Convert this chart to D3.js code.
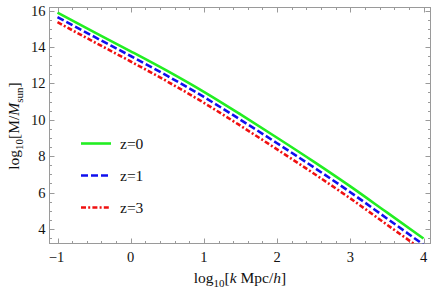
<!DOCTYPE html>
<html><head><meta charset="utf-8">
<script src="https://cdn.jsdelivr.net/npm/d3@7"></script>
<style>body{margin:0;background:#fff}svg{display:block}text{font-family:"Liberation Serif","Times New Roman",Times,serif}</style>
</head><body>
<svg id="c" width="436" height="290"></svg>
<script>
const logK = [-1, -0.5, 0, 0.5, 1, 1.5, 2, 2.5, 3, 3.5, 4];
const massZ0 = [15.88, 14.81, 13.76, 12.68, 11.53, 10.29, 9.01, 7.70, 6.34, 4.91, 3.48];
const massZ1 = [15.64, 14.56, 13.50, 12.41, 11.25, 10.00, 8.71, 7.39, 6.02, 4.58, 3.14];
const massZ3 = [15.36, 14.27, 13.20, 12.10, 10.93, 9.67, 8.37, 7.05, 5.68, 4.24, 2.81];
const seriesNames = ["z=0", "z=1", "z=3"];
const xTicks = [-1, 0, 1, 2, 3, 4];
const yTicks = [4, 6, 8, 10, 12, 14, 16];

const svg = d3.select("#c");
const x = d3.scaleLinear().domain([-1, 4]).range([57.5, 423.5]);
const y = d3.scaleLinear().domain([4, 16]).range([229, 10.5]);
const L = 49.5, R = 430.5, T = 7.5, B = 243.5;
const frameColor = "#9a9a9a";
const txt = "#111";

svg.append("defs").append("clipPath").attr("id", "clip")
  .append("rect").attr("x", L).attr("y", T).attr("width", R - L).attr("height", B - T);

svg.append("rect").attr("x", L).attr("y", T).attr("width", R - L).attr("height", B - T)
  .attr("fill", "none").attr("stroke", frameColor).attr("stroke-width", 1);

const xMinor = d3.range(-1.2, 4.21, 0.2).filter(v => Math.abs(v - Math.round(v)) > 1e-6 && x(v) > L && x(v) < R);
const yMinor = d3.range(3, 16.6, 0.5).filter(v => Math.abs(v / 2 - Math.round(v / 2)) > 1e-6 && y(v) < B && y(v) > T);

const g = svg.append("g").attr("stroke", frameColor).attr("stroke-width", 1);
xTicks.forEach(v => {
  const px = Math.round(x(v)) + 0.5;
  g.append("line").attr("x1", px).attr("x2", px).attr("y1", B).attr("y2", B - 5);
  g.append("line").attr("x1", px).attr("x2", px).attr("y1", T).attr("y2", T + 5);
});
xMinor.forEach(v => {
  const px = Math.round(x(v)) + 0.5;
  g.append("line").attr("x1", px).attr("x2", px).attr("y1", B).attr("y2", B - 2.5);
  g.append("line").attr("x1", px).attr("x2", px).attr("y1", T).attr("y2", T + 2.5);
});
yTicks.forEach(v => {
  const py = Math.round(y(v)) + 0.5;
  g.append("line").attr("x1", L).attr("x2", L + 5).attr("y1", py).attr("y2", py);
  g.append("line").attr("x1", R).attr("x2", R - 5).attr("y1", py).attr("y2", py);
});
yMinor.forEach(v => {
  const py = Math.round(y(v)) + 0.5;
  g.append("line").attr("x1", L).attr("x2", L + 2.5).attr("y1", py).attr("y2", py);
  g.append("line").attr("x1", R).attr("x2", R - 2.5).attr("y1", py).attr("y2", py);
});

svg.append("g").selectAll("text").data(xTicks).join("text")
  .attr("x", d => x(d) - (d < 0 ? 1 : 0)).attr("y", 262).attr("text-anchor", "middle")
  .attr("font-size", 14.5).attr("fill", txt)
  .text(d => d < 0 ? "\u2212" + Math.abs(d) : d);
svg.append("g").selectAll("text").data(yTicks).join("text")
  .attr("x", 45.5).attr("y", d => y(d) + 5).attr("text-anchor", "end")
  .attr("font-size", 14.5).attr("fill", txt)
  .text(d => d);

const xt = svg.append("text").attr("x", 240).attr("y", 283).attr("text-anchor", "middle")
  .attr("font-size", 15.5).attr("fill", txt);
xt.append("tspan").text("log");
xt.append("tspan").attr("font-size", 11).attr("dy", 3.5).text("10");
xt.append("tspan").attr("dy", -3.5).text("[");
xt.append("tspan").attr("font-style", "italic").text("k");
xt.append("tspan").text(" Mpc/");
xt.append("tspan").attr("font-style", "italic").text("h");
xt.append("tspan").text("]");

const yt = svg.append("text").attr("transform", "translate(19,126) rotate(-90)").attr("text-anchor", "middle")
  .attr("font-size", 15.5).attr("fill", txt);
yt.append("tspan").text("log");
yt.append("tspan").attr("font-size", 11).attr("dy", 3.5).text("10");
yt.append("tspan").attr("dy", -3.5).text("[M/");
yt.append("tspan").attr("font-style", "italic").text("M");
yt.append("tspan").attr("font-size", 11).attr("dy", 3.5).text("sun");
yt.append("tspan").attr("dy", -3.5).text("]");

const series = [
  {name: seriesNames[0], vals: massZ0, color: "#22ee22", dash: null, w: 2.6},
  {name: seriesNames[1], vals: massZ1, color: "#1010ee", dash: "7,3", w: 2.6},
  {name: seriesNames[2], vals: massZ3, color: "#f01010", dash: "5,2.2,2,2.2", w: 2.6}
];
const line = d3.line().x(d => x(d[0])).y(d => y(d[1])).curve(d3.curveMonotoneX);
const plot = svg.append("g").attr("clip-path", "url(#clip)");
series.slice().reverse().forEach(s => {
  plot.append("path").datum(logK.map((k, i) => [k, s.vals[i]]))
    .attr("d", line).attr("fill", "none").attr("stroke", s.color)
    .attr("stroke-width", s.w).attr("stroke-dasharray", s.dash);
});

const legY = [143.5, 175.5, 207.5];
series.forEach((s, i) => {
  svg.append("line").attr("x1", 81).attr("x2", 111).attr("y1", legY[i]).attr("y2", legY[i])
    .attr("stroke", s.color).attr("stroke-width", s.w).attr("stroke-dasharray", s.dash);
  svg.append("text").attr("x", 120).attr("y", legY[i] + 5)
    .attr("font-size", 15.5).attr("fill", txt).text(s.name);
});
</script>
</body></html>
